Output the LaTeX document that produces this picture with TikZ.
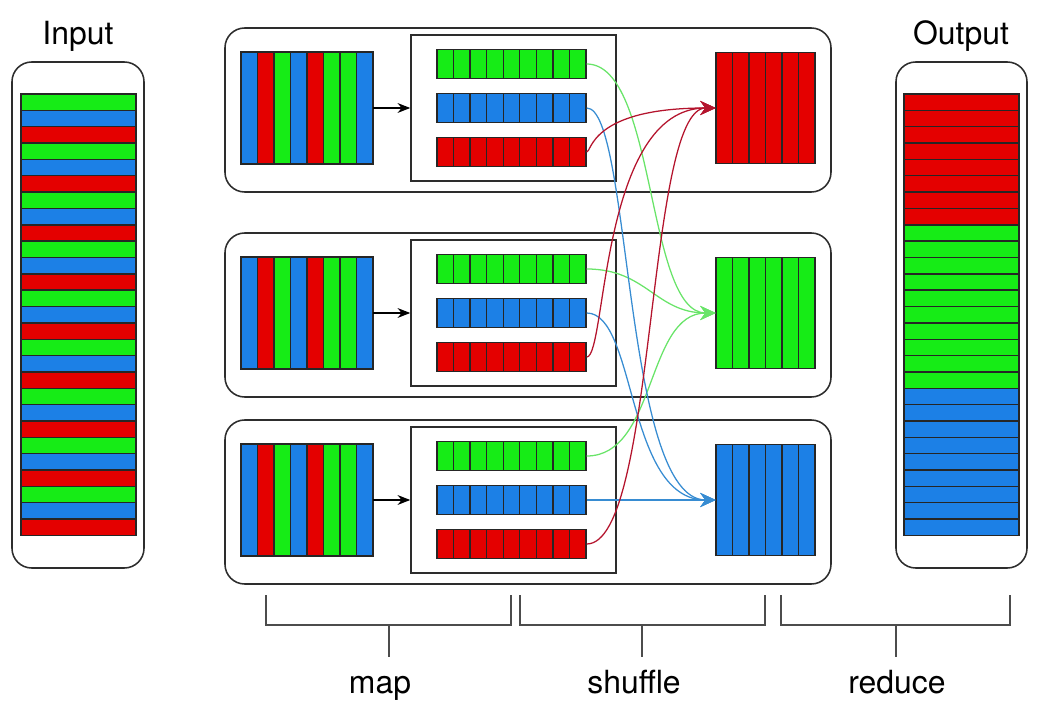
\documentclass[tikz,border=0pt]{standalone}
\usepackage{fontspec}
\setmainfont{TeX Gyre Heros}
\usetikzlibrary{arrows.meta}
\definecolor{cgreen}{RGB}{22,236,22}
\definecolor{cblue}{RGB}{28,128,230}
\definecolor{cred}{RGB}{228,0,0}
\definecolor{lgreen}{RGB}{105,228,105}
\definecolor{lblue}{RGB}{55,140,210}
\definecolor{lred}{RGB}{180,20,45}
\definecolor{edge}{RGB}{45,45,45}
\newcommand{\px}{0.025cm}
\tikzstyle{cell} = [draw=black!85, line width=1pt]
\tikzstyle{frame} = [draw=edge, line width=1.1pt, rounded corners=14pt]
\tikzstyle{box} = [draw=edge, line width=1.1pt, inner sep=0pt]
\tikzstyle{bar} = [cell, inner sep=0pt, minimum width=149*\px, minimum height=29*\px]
\tikzstyle{block} = [inner sep=0pt, minimum height=112*\px]
\tikzstyle{arrow} = [line width=0.8pt, -{Stealth[length=9pt,width=7pt]}]
\tikzstyle{flow} = [line width=0.9pt, -{Stealth[length=11pt,width=10pt]}]
\tikzstyle{title} = [font=\fontsize{22.7}{27}\selectfont, anchor=base]
\tikzstyle{brace} = [draw=edge!85, line width=1pt]

\begin{document}
\begin{tikzpicture}[x=\px, y=-\px]
\useasboundingbox (0,0) rectangle (1041,715);

% input
\node[title] (input) at (78,45) {Input};
\draw[frame] (12,62) rectangle (144,568);
\foreach \k in {0,...,8} {
  \draw[cell, fill=cgreen] (21,94+3*\k*16.35) rectangle ++(115,16.35);
  \draw[cell, fill=cblue] (21,94+3*\k*16.35+16.35) rectangle ++(115,16.35);
  \draw[cell, fill=cred] (21,94+3*\k*16.35+32.7) rectangle ++(115,16.35);
}

% output
\node[title] (output) at (961,45) {Output};
\draw[frame] (896,62) rectangle (1027,568);
\foreach \k in {0,...,7}
  \draw[cell, fill=cred] (904,94+\k*16.35) rectangle ++(115,16.35);
\foreach \k in {0,...,9}
  \draw[cell, fill=cgreen] (904,94+8*16.35+\k*16.35) rectangle ++(115,16.35);
\foreach \k in {0,...,8}
  \draw[cell, fill=cblue] (904,94+18*16.35+\k*16.35) rectangle ++(115,16.35);

% map rows
\foreach \r/\c/\col in {1/108/cred, 2/313/cgreen, 3/500/cblue} {
  \draw[frame] (225,\c-80) rectangle (831,\c+84);
  \node[block, minimum width=132*\px] (src\r) at (307,\c) {};
  \foreach \fill [count=\i from 0] in {cblue,cred,cgreen,cblue,cred,cgreen,cgreen,cblue}
    \draw[cell, fill=\fill] (241+\i*16.5,\c-56) rectangle ++(16.5,112);
  \node[box, minimum width=205*\px, minimum height=146*\px] (split\r) at (513.5,\c) {};
  \draw[arrow] (src\r) -- (split\r);
  \foreach \fill/\name [count=\j from 0] in {cgreen/g, cblue/b, cred/r} {
    \node[bar, fill=\fill] (\name\r) at (511.5,\c-44+44*\j) {};
    \foreach \i in {1,...,8}
      \draw[cell] (437+\i*16.55,\c-44+44*\j-14.5) -- ++(0,29);
  }
  \node[block, minimum width=99*\px, minimum height=111*\px] (out\r) at (765.5,\c) {};
  \foreach \i in {0,...,5}
    \draw[cell, fill=\col] (716+\i*16.5,\c-55.5) rectangle ++(16.5,111);
}

% shuffle
\draw[flow, lgreen] (g1.east) .. controls +(70,0) and +(-70,0) .. (out2.west);
\draw[flow, lgreen] (g2.east) .. controls +(60,0) and +(-60,0) .. (out2.west);
\draw[flow, lgreen] (g3.east) .. controls +(70,0) and +(-70,0) .. (out2.west);
\draw[flow, lblue] (b1.east) .. controls +(45,0) and +(-93,0) .. (out3.west);
\draw[flow, lblue] (b2.east) .. controls +(50,0) and +(-90,0) .. (out3.west);
\draw[flow, lblue] (b3.east) -- (out3.west);
\draw[flow, lred] (r1.east) .. controls +(5,0) and +(-125,0) .. (out1.west);
\draw[flow, lred] (r2.east) .. controls +(20,0) and +(-116,0) .. (out1.west);
\draw[flow, lred] (r3.east) .. controls +(70,0) and +(-70,0) .. (out1.west);

% stages
\foreach \a/\b/\m in {266/511/389, 520/765/642, 781/1010/896} {
  \draw[brace] (\a,595) |- (\b,625) -- (\b,595);
  \draw[brace] (\m,625) -- (\m,657);
}
\node[title] (map) at (380,693) {map};
\node[title] (shuffle) at (634,693) {shuffle};
\node[title] (reduce) at (897,693) {reduce};
\end{tikzpicture}
\end{document}
